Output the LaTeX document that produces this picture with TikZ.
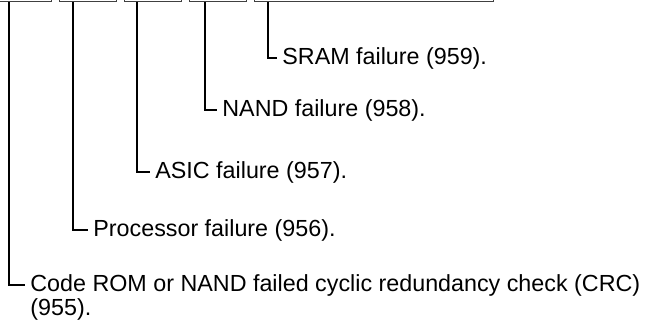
\documentclass[tikz,border=0pt]{standalone}
\usepackage{fontspec}
\setmainfont{Liberation Sans}
\usetikzlibrary{positioning}
\tikzset{regbox/.style={draw=black!75,line width=0.5pt,minimum height=30pt,inner sep=0pt,anchor=south west},
  note/.style={anchor=west,inner xsep=2.5pt,inner ysep=0pt,align=left,font=\fontsize{11.65}{10.2}\selectfont},
  lead/.style={line width=1pt}}

\begin{document}
\begin{tikzpicture}[x=0.5pt,y=-0.5pt]
\useasboundingbox (0,0) rectangle (658,336);
\clip (0,0) rectangle (658,336);
% register fields (top part is outside the picture)
\foreach \n/\x/\w in {f1/-20/35.25,f2/59/28.5,f3/124/28.5,f4/189/28.5,f5/254/119.5}
  \node[regbox,minimum width=\w pt] (\n) at (\x,2.5) {};
% error codes
\node[note] (sram) at (277,58) {SRAM failure (959).};
\node[note] (nand) at (217,110) {NAND failure (958).};
\node[note] (asic) at (150,172) {ASIC failure (957).};
\node[note] (proc) at (88,230) {Processor failure (956).};
\node[note,anchor=north west] (crc) at (25,274) {Code ROM or NAND failed cyclic redundancy check (CRC)\\(955).};
\coordinate (crcpt) at ([yshift=-5.5pt]crc.north west);
% leaders
\foreach \n/\s/\t in {f1/14.5/crcpt,f2/7/proc,f3/6.5/asic,f4/8/nand,f5/7/sram}
  \draw[lead] ([xshift=\s pt]\n.south west) |- (\t);
\end{tikzpicture}
\end{document}
